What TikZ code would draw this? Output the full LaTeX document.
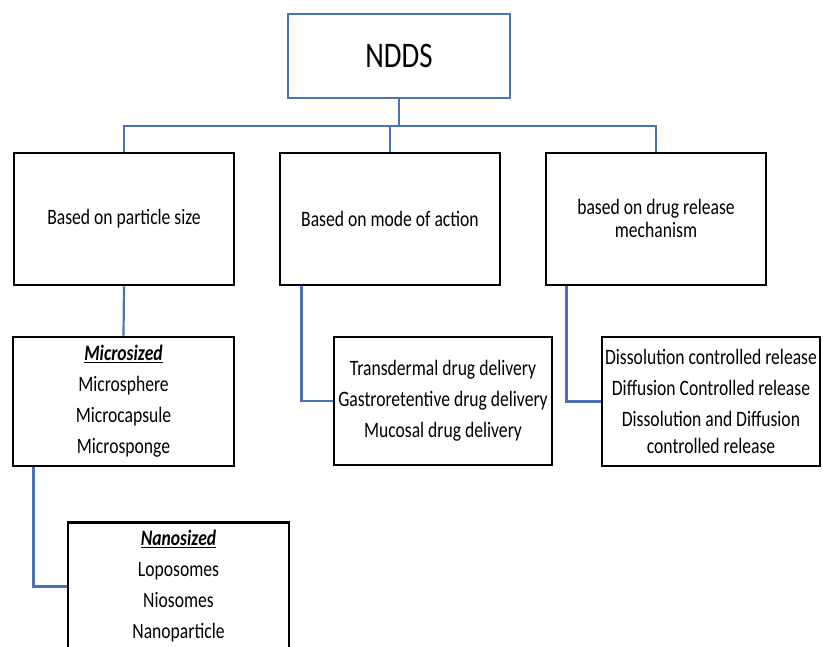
\documentclass[tikz,border=0pt]{standalone}
\usepackage{fontspec}
\setmainfont{Carlito}[FakeStretch=0.8]
\definecolor{linkblue}{HTML}{4A72B5}

\begin{document}
\begin{tikzpicture}[x=1pt,y=-1pt,
    catbox/.style={draw=black,line width=2.9pt,minimum width=220pt,minimum height=132pt,
      inner sep=0pt,align=center,font=\fontsize{22}{31}\selectfont},
    link/.style={draw=linkblue,line width=2.2pt}]
  \clip (0,0) rectangle (823,647);
  \fill[white] (0,0) rectangle (823,647);
  % top
  \node[draw=linkblue,line width=2pt,minimum width=222pt,minimum height=84pt,
    font=\fontsize{36}{40}\selectfont] (ndds) at (399,56) {NDDS};
  % second row
  \node[catbox] (size) at (124,219) {Based on particle size};
  \node[catbox] (mode) at (390,219) {Based on mode of action};
  \node[catbox] (release) at (656,219) {based on drug release\\[-8pt]mechanism\\[-30pt]};
  % third row
  \node[catbox,minimum width=221pt,minimum height=129pt] (micro) at (123.5,401.5)
    {\textbf{\textit{\underline{Microsized}}}\\Microsphere\\Microcapsule\\Microsponge};
  \node[catbox,minimum width=218pt,minimum height=128pt] (action) at (443,401)
    {Transdermal drug delivery\\Gastroretentive drug delivery\\Mucosal drug delivery};
  \node[catbox,minimum width=218pt,minimum height=129pt] (mech) at (711,401.5)
    {Dissolution controlled release\\Diffusion Controlled release\\Dissolution and Diffusion\\[-4pt]controlled release};
  \node[catbox,anchor=north,minimum width=221pt,minimum height=128pt] (nano) at (178.5,521)
    {\textbf{\textit{\underline{Nanosized}}}\\Loposomes\\Niosomes\\Nanoparticle};
  % connectors
  \draw[link] (ndds.south) -- ++(0,27) coordinate (bus);
  \draw[link] (size.north) |- (bus) -| (release.north);
  \draw[link] (bus -| mode.north) -- (mode.north);
  \draw[link] (size.south) -- (micro.north);
  \draw[link] ([xshift=23pt]mode.south west) |- (action.west);
  \draw[link] ([xshift=22pt]release.south west) |- (mech.west);
  \draw[link] ([xshift=22pt]micro.south west) |- (nano.west);
\end{tikzpicture}
\end{document}
